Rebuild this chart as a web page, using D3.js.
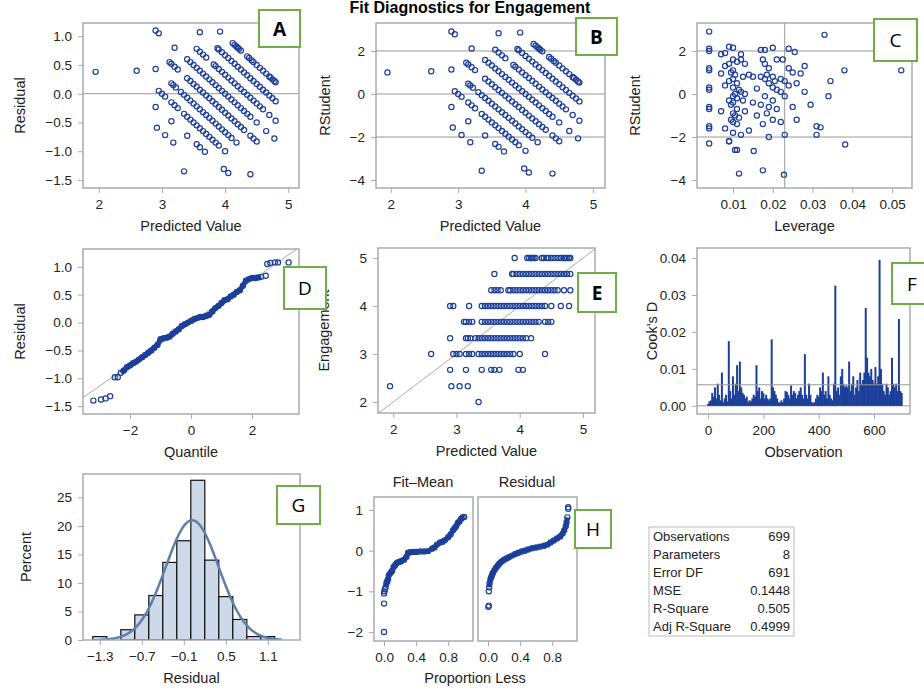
<!DOCTYPE html>
<html>
<head>
<meta charset="utf-8">
<script src="https://cdn.jsdelivr.net/npm/d3@7"></script>
<style>
  body { margin: 0; background: #fff; }
  text { font-family: "Liberation Sans", Arial, sans-serif; }
</style>
</head>
<body>
<svg id="chart" width="924" height="694"></svg>
<script>
// observed Engagement levels and the predicted values seen on each level (panels A, B, E)
const obsLevels = [5, 4.67, 4.33, 4, 3.67, 3.33, 3, 2.67, 2.33, 2];
const predByLevel = [
  [3.92,4.12,4.15,4.18,4.2,4.22,4.25,4.35,4.38,4.42,4.45,4.5,4.55,4.6,4.65,4.7,4.72,4.75,4.78,4.8],
  [3.6,3.88,3.9,3.95,4.0,4.05,4.1,4.15,4.2,4.25,4.3,4.35,4.4,4.45,4.5,4.55,4.6,4.65,4.7,4.75,4.8],
  [3.55,3.6,3.65,3.7,3.82,3.85,3.9,3.95,4.0,4.05,4.1,4.15,4.2,4.25,4.3,4.35,4.4,4.45,4.5,4.55,4.6,4.7,4.8],
  [2.9,2.95,3.2,3.4,3.45,3.5,3.55,3.6,3.65,3.7,3.75,3.8,3.85,3.9,3.95,4.0,4.05,4.1,4.15,4.2,4.25,4.3,4.35,4.4,4.5,4.65,4.78],
  [3.12,3.15,3.2,3.25,3.4,3.45,3.5,3.55,3.6,3.65,3.7,3.75,3.8,3.85,3.9,3.95,4.0,4.05,4.1,4.15,4.2,4.25,4.3,4.4,4.45,4.5],
  [2.9,3.15,3.18,3.22,3.3,3.35,3.4,3.45,3.5,3.55,3.6,3.65,3.7,3.75,3.8,3.85,3.9,3.95,4.0,4.05,4.1,4.18],
  [2.6,2.95,3.0,3.05,3.15,3.2,3.25,3.35,3.4,3.45,3.5,3.55,3.6,3.65,3.7,3.75,3.8,3.85,3.9,4.0,4.4],
  [2.9,3.15,3.4,3.55,3.6,3.68,3.98,4.05],
  [1.95,2.92,3.05,3.18],
  [3.35]
];
const mse = 0.1448;
const avgLeverage = 0.0114;

// panel C: leverage vs RStudent
const levC = [0.004,0.004,0.004,0.004,0.004,0.004,0.004,0.004,0.004,0.004,0.004,0.004,
  0.007,0.007,0.007,0.008,0.008,0.008,0.008,0.009,0.009,0.009,0.009,0.009,0.0095,0.0095,0.0095,
  0.01,0.01,0.01,0.01,0.01,0.01,0.01,0.01,0.01,0.01,0.0105,0.0105,0.0105,0.011,0.011,0.011,0.011,
  0.011,0.011,0.0115,0.0115,0.012,0.012,0.012,0.012,0.0125,0.0125,0.013,0.013,0.013,0.014,0.014,
  0.015,0.015,0.016,0.016,0.017,0.017,0.017,0.0175,0.0175,0.018,0.018,0.018,0.018,0.0185,0.0185,
  0.019,0.019,0.019,0.019,0.02,0.02,0.02,0.02,0.02,0.0205,0.021,0.021,0.021,0.022,0.022,0.022,
  0.0225,0.023,0.023,0.023,0.024,0.024,0.024,0.025,0.025,0.0255,0.026,0.026,0.027,0.028,0.028,
  0.0295,0.031,0.031,0.032,0.033,0.034,0.0345,0.038,0.0382,0.0523,0.009,0.0105,0.0115,0.0152,0.0228,0.0175];
const rstudC = [2.9,2.1,2.0,1.2,1.1,0.3,0.2,-0.6,-0.7,-1.5,-1.6,-2.3,
  1.85,0.95,-0.8,1.9,1.3,0.4,-1.6,2.2,1.4,0.6,-0.3,-2.2,1.0,-0.5,-1.2,
  2.15,1.6,1.1,0.7,0.3,-0.1,-0.4,-0.9,-1.3,-1.8,0.9,0.0,-1.0,1.5,0.5,-0.2,-0.7,-1.4,-2.6,0.2,-1.1,
  1.85,1.6,0.1,-1.9,0.8,-0.3,1.4,0.0,-0.8,0.9,-1.7,0.8,-0.4,0.25,-1.0,2.05,0.8,-0.5,1.6,-1.4,
  2.05,1.4,0.7,-0.1,0.9,-0.9,1.2,0.5,-0.6,-2.0,2.15,0.8,0.3,-0.3,-1.2,0.6,1.6,0.2,-0.7,0.7,0.1,-1.3,
  1.6,0.6,-0.1,-1.9,2.1,1.2,0.4,1.0,-0.6,1.95,0.5,-1.2,0.95,1.3,0.1,
  -0.5,-1.5,-1.9,-1.55,2.75,-0.1,0.6,1.1,-2.35,1.1,-2.2,-2.6,-3.7,-2.65,-3.75,-3.55];

// panel D: quantile vs residual
const qqQuantile = [-3.2,-2.95,-2.8,-2.65,-2.5,-2.4,-2.3,-2.2,-2.1,-2.0,-1.9,-1.8,-1.7,-1.6,-1.5,-1.4,
  -1.3,-1.2,-1.1,-1.0,-0.9,-0.8,-0.7,-0.6,-0.5,-0.4,-0.3,-0.2,-0.1,0.0,0.1,0.2,0.3,0.4,0.5,0.6,
  0.7,0.8,0.9,1.0,1.1,1.2,1.3,1.4,1.5,1.6,1.7,1.8,1.9,2.0,2.1,2.2,2.3,2.45,2.5,2.6,2.75,2.85,3.2];
const qqResidual = [-1.4,-1.38,-1.36,-1.32,-0.98,-0.98,-0.9,-0.86,-0.8,-0.77,-0.73,-0.7,-0.66,-0.62,-0.58,-0.54,
  -0.5,-0.45,-0.4,-0.3,-0.28,-0.27,-0.25,-0.2,-0.16,-0.12,-0.06,-0.03,0.0,0.03,0.06,0.08,0.1,0.1,0.12,0.14,
  0.2,0.26,0.3,0.35,0.4,0.42,0.47,0.5,0.55,0.58,0.66,0.75,0.78,0.8,0.8,0.81,0.82,0.84,1.05,1.07,1.08,1.08,1.08];

// panel F: Cook's D, one value every 5 observations from 0 to 700
const cookStep = 5;
const cookD = [0.0005,0.0012,0.0015,0.0035,0.0025,0.005,0.002,0.006,0.003,0.0015,0.009,0.001,0.002,0.003,0.0012,0.0175,
  0.004,0.002,0.008,0.003,0.006,0.011,0.004,0.012,0.005,0.0035,0.003,0.002,0.0025,0.001,0.0015,0.0012,0.002,0.003,0.0025,0.011,
  0.004,0.005,0.002,0.004,0.0035,0.002,0.003,0.002,0.0015,0.002,0.018,0.005,0.004,0.003,0.002,0.001,0.0008,0.0015,0.001,0.002,
  0.004,0.0038,0.003,0.002,0.0055,0.003,0.004,0.0035,0.002,0.003,0.004,0.005,0.003,0.002,0.014,0.003,0.002,0.006,0.003,0.001,
  0.0008,0.001,0.002,0.003,0.0025,0.005,0.004,0.009,0.003,0.004,0.002,0.008,0.003,0.002,0.0015,0.006,0.0325,0.004,0.005,0.003,
  0.008,0.01,0.006,0.005,0.0055,0.005,0.012,0.004,0.006,0.008,0.003,0.005,0.007,0.004,0.009,0.006,0.007,0.009,0.0265,0.013,
  0.009,0.008,0.01,0.007,0.006,0.0105,0.006,0.008,0.0395,0.01,0.006,0.004,0.003,0.006,0.005,0.003,0.004,0.013,0.006,0.005,
  0.006,0.004,0.0235,0.004,0.0035];
const cookCutoff = 0.0057;

// panel G: residual histogram
const binCenters = [-1.3,-1.1,-0.9,-0.7,-0.5,-0.3,-0.1,0.1,0.3,0.5,0.7,0.9,1.1];
const binPercent = [0.6,0,1.8,4.4,7.8,13.6,17.4,28,14,7.6,3.6,0.6,0.6];
const histTicks = [-1.3,-0.7,-0.1,0.5,1.1];
const normalMean = 0.02, normalSd = 0.38;

// panel H: residual-fit spread
const fitProp = [0,0,0,0.005,0.01,0.02,0.03,0.04,0.05,0.06,0.08,0.1,0.12,0.14,0.16,0.18,0.2,0.22,0.25,0.28,0.3,
  0.33,0.36,0.4,0.45,0.5,0.55,0.6,0.63,0.66,0.7,0.73,0.76,0.8,0.83,0.86,0.88,0.9,0.92,0.94,0.96,0.98,1.0];
const fitMean = [-2,-1.3,-1.05,-1.0,-0.95,-0.9,-0.8,-0.75,-0.7,-0.6,-0.55,-0.5,-0.4,-0.35,-0.3,-0.28,-0.27,-0.25,-0.22,-0.15,-0.05,
  -0.04,-0.03,-0.03,-0.02,-0.02,-0.01,0.05,0.08,0.15,0.2,0.22,0.26,0.33,0.4,0.5,0.55,0.6,0.68,0.72,0.78,0.82,0.83];
const resProp = [0.005,0.01,0.01,0.015,0.02,0.03,0.04,0.05,0.06,0.08,0.1,0.12,0.14,0.16,0.18,0.2,0.23,0.26,0.3,0.34,
  0.38,0.42,0.46,0.5,0.55,0.6,0.65,0.7,0.74,0.78,0.82,0.86,0.9,0.93,0.95,0.97,0.98,0.99,1.0,1.0];
const resValue = [-1.38,-1.35,-1.0,-0.9,-0.8,-0.7,-0.65,-0.6,-0.55,-0.48,-0.42,-0.37,-0.32,-0.28,-0.25,-0.22,-0.19,-0.16,-0.12,-0.08,
  -0.05,-0.02,0.0,0.03,0.06,0.08,0.1,0.12,0.15,0.2,0.25,0.3,0.35,0.42,0.5,0.6,0.7,0.82,1.03,1.07];

const statNames = ["Observations","Parameters","Error DF","MSE","R-Square","Adj R-Square"];
const statValues = ["699","8","691","0.1448","0.505","0.4999"];

const navy = "#1c3f99";
const frameColor = "#a7abb0";
const svg = d3.select("#chart");

svg.append("text").attr("x", 470).attr("y", 13).attr("text-anchor", "middle")
  .style("font-size", "16px").style("font-weight", "bold").text("Fit Diagnostics for Engagement");

function makePanel(p) {
  const g = svg.append("g").attr("transform", `translate(${p.left},${p.top})`);
  const x = d3.scaleLinear().domain(p.xDomain).range([0, p.w]);
  const y = d3.scaleLinear().domain(p.yDomain).range([p.h, 0]);
  g.append("g").attr("transform", `translate(0,${p.h})`)
    .call(d3.axisBottom(x).tickValues(p.xTicks).tickSize(5).tickPadding(6).tickFormat(p.xFmt || d3.format("")));
  if (p.yTicks) {
    g.append("g").call(d3.axisLeft(y).tickValues(p.yTicks).tickSize(5).tickPadding(6).tickFormat(p.yFmt || d3.format("")));
  }
  g.selectAll(".domain").remove();
  g.selectAll(".tick line").attr("stroke", frameColor);
  g.selectAll(".tick text").style("font-size", "13.5px").attr("fill", "#222");
  if (p.xLabel) {
    g.append("text").attr("x", p.w / 2).attr("y", p.h + 43).attr("text-anchor", "middle")
      .style("font-size", "14.5px").attr("fill", "#222").text(p.xLabel);
  }
  if (p.yLabel) {
    g.append("text").attr("transform", "rotate(-90)").attr("x", -p.h / 2).attr("y", p.yLabelX)
      .attr("text-anchor", "middle").style("font-size", "14.5px").attr("fill", "#222").text(p.yLabel);
  }
  g.append("defs").append("clipPath").attr("id", "clip" + p.id)
    .append("rect").attr("width", p.w).attr("height", p.h);
  const plot = g.append("g").attr("clip-path", `url(#clip${p.id})`);
  return { g, plot, x, y, w: p.w, h: p.h };
}

function frame(pn) {
  pn.g.append("rect").attr("width", pn.w).attr("height", pn.h)
    .attr("fill", "none").attr("stroke", frameColor).attr("stroke-width", 1.5);
}

function circles(pn, pts) {
  pn.plot.selectAll("circle.pt").data(pts).enter().append("circle")
    .attr("cx", d => pn.x(d[0])).attr("cy", d => pn.y(d[1])).attr("r", 2.6)
    .attr("fill", "none").attr("stroke", navy).attr("stroke-width", 1.2);
}

function refH(pn, v) {
  pn.plot.append("line").attr("x1", 0).attr("x2", pn.w).attr("y1", pn.y(v)).attr("y2", pn.y(v))
    .attr("stroke", "#999").attr("stroke-width", 1);
}
function refV(pn, v) {
  pn.plot.append("line").attr("y1", 0).attr("y2", pn.h).attr("x1", pn.x(v)).attr("x2", pn.x(v))
    .attr("stroke", "#999").attr("stroke-width", 1);
}

// points with residual and studentized residual
const points = [];
obsLevels.forEach((o, i) => predByLevel[i].forEach(p => {
  const r = o - p;
  points.push({ pred: p, obs: o, resid: r, rstud: r / Math.sqrt(mse * (1 - avgLeverage)) });
}));

// A
const pA = makePanel({ id: "A", left: 83, top: 23, w: 216, h: 165, xDomain: [1.75, 5.17], yDomain: [-1.64, 1.23],
  xTicks: [2,3,4,5], yTicks: [-1.5,-1,-0.5,0,0.5,1], yFmt: d3.format(".1f"), xLabel: "Predicted Value", yLabel: "Residual", yLabelX: -58 });
refH(pA, 0);
circles(pA, points.map(d => [d.pred, d.resid]));
frame(pA);

// B
const pB = makePanel({ id: "B", left: 376, top: 23, w: 229, h: 165, xDomain: [1.78, 5.18], yDomain: [-4.37, 3.3],
  xTicks: [2,3,4,5], yTicks: [-4,-2,0,2], xLabel: "Predicted Value", yLabel: "RStudent", yLabelX: -46 });
refH(pB, 0); refH(pB, 2); refH(pB, -2);
circles(pB, points.map(d => [d.pred, d.rstud]));
frame(pB);

// C
const pC = makePanel({ id: "C", left: 697, top: 23, w: 215, h: 165, xDomain: [0.00094, 0.055], yDomain: [-4.37, 3.3],
  xTicks: [0.01,0.02,0.03,0.04,0.05], xFmt: d3.format(".2f"), yTicks: [-4,-2,0,2], xLabel: "Leverage", yLabel: "RStudent", yLabelX: -57 });
refH(pC, 2); refH(pC, -2); refV(pC, 0.023);
circles(pC, levC.map((l, i) => [l, rstudC[i]]));
frame(pC);

// D
const pD = makePanel({ id: "D", left: 83, top: 249, w: 216, h: 165, xDomain: [-3.54, 3.54], yDomain: [-1.64, 1.32],
  xTicks: [-2,0,2], yTicks: [-1.5,-1,-0.5,0,0.5,1], yFmt: d3.format(".1f"), xLabel: "Quantile", yLabel: "Residual", yLabelX: -58 });
pD.plot.append("line").attr("x1", pD.x(-3.54)).attr("y1", pD.y(-3.54 * 0.38)).attr("x2", pD.x(3.54)).attr("y2", pD.y(3.54 * 0.38))
  .attr("stroke", "#aaa");
pD.plot.append("path").datum(qqQuantile.map((q, i) => [q, qqResidual[i]]).filter((d, i) => i > 5 && i < 53))
  .attr("d", d3.line().x(d => pD.x(d[0])).y(d => pD.y(d[1])))
  .attr("fill", "none").attr("stroke", navy).attr("stroke-width", 5);
circles(pD, qqQuantile.map((q, i) => [q, qqResidual[i]]));
frame(pD);

// E
const pE = makePanel({ id: "E", left: 378, top: 248, w: 217, h: 165, xDomain: [1.76, 5.19], yDomain: [1.77, 5.21],
  xTicks: [2,3,4,5], yTicks: [2,3,4,5], xLabel: "Predicted Value", yLabel: "Engagement", yLabelX: -49 });
pE.plot.append("line").attr("x1", pE.x(1.7)).attr("y1", pE.y(1.7)).attr("x2", pE.x(5.3)).attr("y2", pE.y(5.3))
  .attr("stroke", "#aaa");
circles(pE, points.map(d => [d.pred, d.obs]));
frame(pE);

// F
const pF = makePanel({ id: "F", left: 697, top: 248, w: 213, h: 166, xDomain: [-40, 730], yDomain: [-0.0022, 0.0427],
  xTicks: [0,200,400,600], yTicks: [0,0.01,0.02,0.03,0.04], yFmt: d3.format(".2f"), xLabel: "Observation", yLabel: "Cook's D", yLabelX: -40 });
refH(pF, 0);
pF.plot.selectAll("line.spike").data(cookD).enter().append("line")
  .attr("x1", (d, i) => pF.x(i * cookStep)).attr("x2", (d, i) => pF.x(i * cookStep))
  .attr("y1", pF.y(0)).attr("y2", d => pF.y(d)).attr("stroke", navy).attr("stroke-width", 2);
refH(pF, cookCutoff);
frame(pF);

// G
const pG = makePanel({ id: "G", left: 83, top: 474, w: 217, h: 166, xDomain: [-1.54, 1.56], yDomain: [0, 29.1],
  xTicks: histTicks, xFmt: d3.format(".1f"), yTicks: [0,5,10,15,20,25], xLabel: "Residual", yLabel: "Percent", yLabelX: -52 });
pG.plot.selectAll("rect.bar").data(binCenters).enter().append("rect")
  .attr("x", d => pG.x(d - 0.1)).attr("width", pG.x(0.1) - pG.x(-0.1))
  .attr("y", (d, i) => pG.y(binPercent[i])).attr("height", (d, i) => pG.y(0) - pG.y(binPercent[i]))
  .attr("fill", "#cdd8e8").attr("stroke", "#111").attr("stroke-width", 1.2);
const curveX = d3.range(-1.3, 1.31, 0.02);
pG.plot.append("path").datum(curveX)
  .attr("d", d3.line().x(d => pG.x(d)).y(d => pG.y(20 * Math.exp(-0.5 * ((d - normalMean) / normalSd) ** 2) / (normalSd * Math.sqrt(2 * Math.PI)))).curve(d3.curveBasis))
  .attr("fill", "none").attr("stroke", "#5f7fa6").attr("stroke-width", 2.5);
frame(pG);

// H
const pH1 = makePanel({ id: "H1", left: 374, top: 497, w: 99, h: 144, xDomain: [-0.125, 1.11], yDomain: [-2.22, 1.32],
  xTicks: [0,0.4,0.8], xFmt: d3.format(".1f"), yTicks: [-2,-1,0,1] });
circles(pH1, fitProp.map((p, i) => [p, fitMean[i]]));
frame(pH1);
const pH2 = makePanel({ id: "H2", left: 478, top: 497, w: 99, h: 144, xDomain: [-0.125, 1.11], yDomain: [-2.22, 1.32],
  xTicks: [0,0.4,0.8], xFmt: d3.format(".1f") });
circles(pH2, resProp.map((p, i) => [p, resValue[i]]));
frame(pH2);
[[pH1, fitProp, fitMean], [pH2, resProp, resValue]].forEach(([pn, px, py]) => {
  pn.plot.insert("path", "circle").datum(px.map((p, i) => [p, py[i]]).filter(d => d[1] > -0.95 && d[1] < 0.9))
    .attr("d", d3.line().x(d => pn.x(d[0])).y(d => pn.y(d[1])))
    .attr("fill", "none").attr("stroke", navy).attr("stroke-width", 4.5);
});
svg.append("text").attr("x", 423).attr("y", 487).attr("text-anchor", "middle").style("font-size", "14.5px").attr("fill", "#222").text("Fit–Mean");
svg.append("text").attr("x", 527).attr("y", 487).attr("text-anchor", "middle").style("font-size", "14.5px").attr("fill", "#222").text("Residual");
svg.append("text").attr("x", 475).attr("y", 683).attr("text-anchor", "middle").style("font-size", "14.5px").attr("fill", "#222").text("Proportion Less");

// stats table
const tbl = svg.append("g").attr("transform", "translate(649,527)");
tbl.append("rect").attr("width", 145).attr("height", 109).attr("fill", "#fff").attr("stroke", "#bbb");
statNames.forEach((n, i) => {
  tbl.append("text").attr("x", 4).attr("y", 14 + i * 18).style("font-size", "13px").attr("fill", "#222").text(n);
  tbl.append("text").attr("x", 141).attr("y", 14 + i * 18).attr("text-anchor", "end").style("font-size", "13px").attr("fill", "#222").text(statValues[i]);
});

// panel letters
const letters = ["A","B","C","D","E","F","G","H"];
const letterBold = [true,true,false,false,true,false,false,false];
const letterBoxes = [[259,10,41,37],[576,18,41,37],[874,19,43,42],[284,267,42,42],[578,273,38,39],[892,263,40,41],[277,486,43,38],[575,510,36,38]];
letterBoxes.forEach((b, i) => {
  const lg = svg.append("g").attr("transform", `translate(${b[0]},${b[1]})`);
  lg.append("rect").attr("width", b[2]).attr("height", b[3]).attr("fill", "#fff").attr("stroke", "#70ad47").attr("stroke-width", 2);
  lg.append("text").attr("x", b[2] / 2).attr("y", b[3] / 2 + 7).attr("text-anchor", "middle")
    .style("font-family", "Open Sans, sans-serif").style("font-size", "19px")
    .style("font-weight", letterBold[i] ? "bold" : "normal").text(letters[i]);
});
</script>
</body>
</html>
